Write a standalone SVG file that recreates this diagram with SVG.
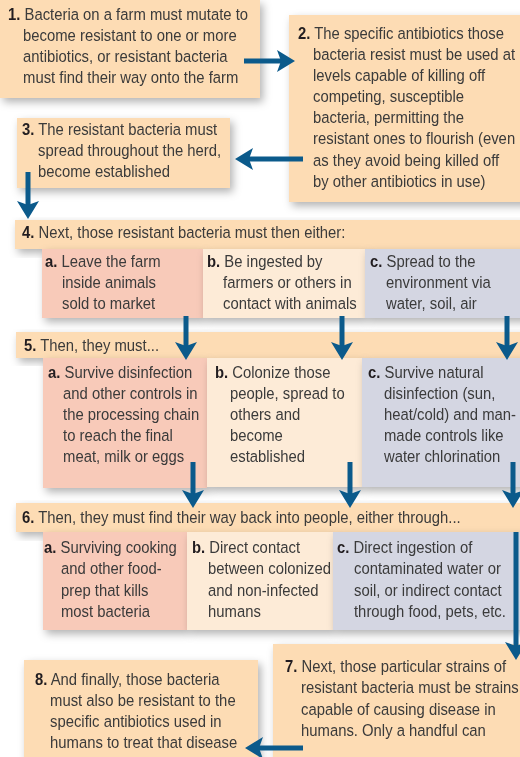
<svg xmlns="http://www.w3.org/2000/svg" width="520" height="757" viewBox="0 0 520 757">
<style>
.t{font-family:"Liberation Sans",Arial,Helvetica,sans-serif;font-size:16.5px;fill:#3a3a3a}
.n{font-weight:bold;fill:#231f20}
.pe{fill:#fddcb4}
.pk{fill:#f8cab9}
.cr{fill:#fdebd7}
.bg{fill:#d4d6e2}
.ar{stroke:#0b5a8b;stroke-width:5;fill:none;marker-end:url(#ah)}
</style>
<defs>
<filter id="sh" x="-10%" y="-10%" width="130%" height="140%">
<feDropShadow dx="3" dy="4" stdDeviation="4.5" flood-color="#000" flood-opacity="0.3"/>
</filter>
<marker id="ah" markerUnits="userSpaceOnUse" markerWidth="20" markerHeight="24" refX="4" refY="11" orient="auto" viewBox="0 0 20 24">
<path d="M0,0 L18,11 L0,22 L4,11 z" fill="#0b5a8b"/>
</marker>
</defs>
<rect width="520" height="757" fill="#fff"/>

<g id="n1" filter="url(#sh)">
<rect class="pe" x="0" y="0" width="260" height="98"/>
<text class="t" transform="translate(8,20) scale(0.9,1)"><tspan class="n">1.</tspan> Bacteria on a farm must mutate to<tspan x="16.7" dy="21">become resistant to one or more</tspan><tspan x="16.7" dy="21">antibiotics, or resistant bacteria</tspan><tspan x="16.7" dy="21">must find their way onto the farm</tspan></text>
</g>

<g id="n2" filter="url(#sh)">
<rect class="pe" x="289" y="15" width="240" height="187"/>
<text class="t" transform="translate(298,39) scale(0.9,1)"><tspan class="n">2.</tspan> The specific antibiotics those<tspan x="16.7" dy="21.1">bacteria resist must be used at</tspan><tspan x="16.7" dy="21.1">levels capable of killing off</tspan><tspan x="16.7" dy="21.1">competing, susceptible</tspan><tspan x="16.7" dy="21.1">bacteria, permitting the</tspan><tspan x="16.7" dy="21.1">resistant ones to flourish (even</tspan><tspan x="16.7" dy="21.1">as they avoid being killed off</tspan><tspan x="16.7" dy="21.1">by other antibiotics in use)</tspan></text>
</g>

<g id="n3" filter="url(#sh)">
<rect class="pe" x="17" y="118" width="213" height="70"/>
<text class="t" transform="translate(22,135) scale(0.9,1)"><tspan class="n">3.</tspan> The resistant bacteria must<tspan x="17.8" dy="21">spread throughout the herd,</tspan><tspan x="17.8" dy="21">become established</tspan></text>
</g>

<g id="n4" filter="url(#sh)">
<rect class="pe" x="15" y="220" width="515" height="29"/>
<text class="t" transform="translate(22,238) scale(0.9,1)"><tspan class="n">4.</tspan> Next, those resistant bacteria must then either:</text>
</g>
<g id="n4a" filter="url(#sh)">
<rect class="pk" x="42" y="249" width="161" height="69"/>
<text class="t" transform="translate(45,267) scale(0.9,1)"><tspan class="n">a.</tspan> Leave the farm<tspan x="18.9" dy="21">inside animals</tspan><tspan x="18.9" dy="21">sold to market</tspan></text>
</g>
<g id="n4b" filter="url(#sh)">
<rect class="cr" x="203" y="249" width="162" height="69"/>
<text class="t" transform="translate(207,267) scale(0.9,1)"><tspan class="n">b.</tspan> Be ingested by<tspan x="17.8" dy="21">farmers or others in</tspan><tspan x="17.8" dy="21">contact with animals</tspan></text>
</g>
<g id="n4c" filter="url(#sh)">
<rect class="bg" x="365" y="249" width="165" height="69"/>
<text class="t" transform="translate(370,267) scale(0.9,1)"><tspan class="n">c.</tspan> Spread to the<tspan x="17.8" dy="21">environment via</tspan><tspan x="17.8" dy="21">water, soil, air</tspan></text>
</g>

<g id="n5" filter="url(#sh)">
<rect class="pe" x="16" y="332" width="514" height="26"/>
<text class="t" transform="translate(24,351) scale(0.9,1)"><tspan class="n">5.</tspan> Then, they must...</text>
</g>
<g id="n5a" filter="url(#sh)">
<rect class="pk" x="43" y="358" width="164" height="130"/>
<text class="t" transform="translate(48,378) scale(0.9,1)"><tspan class="n">a.</tspan> Survive disinfection<tspan x="16.7" dy="21">and other controls in</tspan><tspan x="16.7" dy="21">the processing chain</tspan><tspan x="16.7" dy="21">to reach the final</tspan><tspan x="16.7" dy="21">meat, milk or eggs</tspan></text>
</g>
<g id="n5b" filter="url(#sh)">
<rect class="cr" x="207" y="358" width="155" height="129"/>
<text class="t" transform="translate(215,378) scale(0.9,1)"><tspan class="n">b.</tspan> Colonize those<tspan x="16.7" dy="21">people, spread to</tspan><tspan x="16.7" dy="21">others and</tspan><tspan x="16.7" dy="21">become</tspan><tspan x="16.7" dy="21">established</tspan></text>
</g>
<g id="n5c" filter="url(#sh)">
<rect class="bg" x="362" y="358" width="168" height="129"/>
<text class="t" transform="translate(368,378) scale(0.9,1)"><tspan class="n">c.</tspan> Survive natural<tspan x="17.8" dy="21">disinfection (sun,</tspan><tspan x="17.8" dy="21">heat/cold) and man-</tspan><tspan x="17.8" dy="21">made controls like</tspan><tspan x="17.8" dy="21">water chlorination</tspan></text>
</g>

<g id="n6" filter="url(#sh)">
<rect class="pe" x="16" y="503" width="514" height="29"/>
<text class="t" transform="translate(22,523) scale(0.9,1)"><tspan class="n">6.</tspan> Then, they must find their way back into people, either through...</text>
</g>
<g id="n6a" filter="url(#sh)">
<rect class="pk" x="43" y="532" width="144" height="98"/>
<text class="t" transform="translate(44,553) scale(0.9,1)"><tspan class="n">a.</tspan> Surviving cooking<tspan x="18.9" dy="21.3">and other food-</tspan><tspan x="18.9" dy="21.3">prep that kills</tspan><tspan x="18.9" dy="21.3">most bacteria</tspan></text>
</g>
<g id="n6b" filter="url(#sh)">
<rect class="cr" x="187" y="532" width="146" height="98"/>
<text class="t" transform="translate(192,553) scale(0.9,1)"><tspan class="n">b.</tspan> Direct contact<tspan x="17.8" dy="21.3">between colonized</tspan><tspan x="17.8" dy="21.3">and non-infected</tspan><tspan x="17.8" dy="21.3">humans</tspan></text>
</g>
<g id="n6c" filter="url(#sh)">
<rect class="bg" x="333" y="532" width="197" height="98"/>
<text class="t" transform="translate(337,553) scale(0.9,1)"><tspan class="n">c.</tspan> Direct ingestion of<tspan x="18.9" dy="21.3">contaminated water or</tspan><tspan x="18.9" dy="21.3">soil, or indirect contact</tspan><tspan x="18.9" dy="21.3">through food, pets, etc.</tspan></text>
</g>

<g id="n7" filter="url(#sh)">
<rect class="pe" x="273" y="644" width="257" height="120"/>
<text class="t" transform="translate(285,672) scale(0.9,1)"><tspan class="n">7.</tspan> Next, those particular strains of<tspan x="17.8" dy="21.3">resistant bacteria must be strains</tspan><tspan x="17.8" dy="21.3">capable of causing disease in</tspan><tspan x="17.8" dy="21.3">humans. Only a handful can</tspan></text>
</g>

<g id="n8" filter="url(#sh)">
<rect class="pe" x="24" y="660" width="234" height="104"/>
<text class="t" transform="translate(35,685) scale(0.9,1)"><tspan class="n">8.</tspan> And finally, those bacteria<tspan x="16.7" dy="21">must also be resistant to the</tspan><tspan x="16.7" dy="21">specific antibiotics used in</tspan><tspan x="16.7" dy="21">humans to treat that disease</tspan></text>
</g>

<g id="connectors">
<line class="ar" x1="244" y1="61" x2="281" y2="61"/>
<line class="ar" x1="303" y1="159" x2="249" y2="159"/>
<line class="ar" x1="28" y1="172" x2="28" y2="205"/>
<line class="ar" x1="186" y1="316" x2="186" y2="346"/>
<line class="ar" x1="342" y1="316" x2="342" y2="346"/>
<line class="ar" x1="507" y1="316" x2="507" y2="346"/>
<line class="ar" x1="193" y1="462" x2="193" y2="494"/>
<line class="ar" x1="350" y1="462" x2="350" y2="494"/>
<line class="ar" x1="513" y1="462" x2="513" y2="494"/>
<line class="ar" x1="516" y1="532" x2="516" y2="646"/>
<line class="ar" x1="303" y1="748" x2="259" y2="748"/>
</g>
</svg>
